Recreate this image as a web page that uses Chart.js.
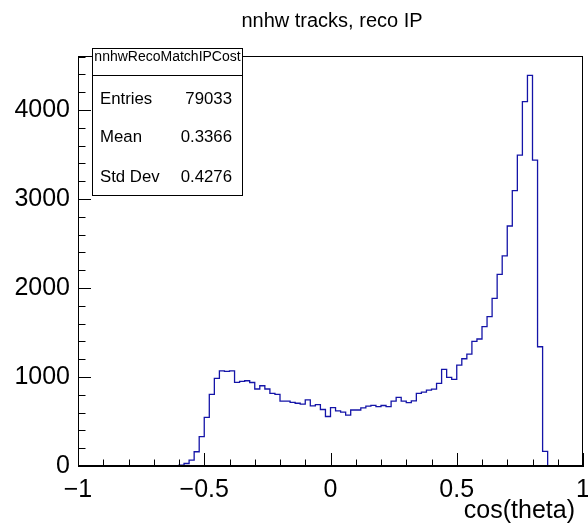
<!DOCTYPE html>
<html>
<head>
<meta charset="utf-8">
<script src="https://cdn.jsdelivr.net/npm/chart.js@4/dist/chart.umd.min.js"></script>
<style>
html,body{margin:0;padding:0;background:#fff;}
#wrap{width:588px;height:524px;position:relative;}
</style>
</head>
<body>
<div id="wrap"><canvas id="c" width="588" height="524"></canvas></div>
<script>
// ---- data ----
const chartTitle = 'nnhw tracks, reco IP';
const xAxisTitle = 'cos(theta)';
const histName = 'nnhwRecoMatchIPCost';
const statLabels = ['Entries', 'Mean', 'Std Dev'];
const statValues = ['79033', '0.3366', '0.4276'];
const xRange = [-1, 1];
const binWidth = 0.02;
const firstFilledBinLow = -0.6;
// counts of the filled bins, from -0.60 upward in steps of 0.02
const binCounts = [
  10, 28, 65, 160, 330, 547, 805, 985, 1070, 1063,
  1070, 940, 950, 958, 938, 865, 902, 865, 817, 805,
  730, 730, 716, 705, 695, 742, 676, 690, 635, 556,
  657, 620, 605, 572, 629, 629, 654, 672, 682, 668,
  680, 668, 730, 770, 729, 712, 732, 815, 830, 852,
  863, 929, 1086, 995, 974, 1133, 1205, 1257, 1400, 1427,
  1565, 1678, 1884, 2154, 2360, 2697, 3094, 3494, 4094, 4390,
  3438, 1340, 165
];
const yMax = 4607;
const xTickValues = [-1, -0.5, 0, 0.5, 1];
const yTickValues = [0, 1000, 2000, 3000, 4000];
const xMajorStep = 0.5, xMinorStep = 0.1;
const yMajorStep = 1000, yMinorStep = 200;

const FONT = '"Liberation Sans", Arial, Helvetica, sans-serif';

// histogram outline points (lower bin edges, stepped)
const points = [{x: xRange[0], y: 0}];
binCounts.forEach((v, i) => {
  points.push({x: +(firstFilledBinLow + i * binWidth).toFixed(4), y: v});
});
points.push({x: +(firstFilledBinLow + binCounts.length * binWidth).toFixed(4), y: 0});
points.push({x: xRange[1], y: 0});

const fmt = v => String(+(+v).toFixed(4)).replace('-', '\u2212');

const rootPlugin = {
  id: 'rootStyle',
  afterDraw(chart) {
    const ctx = chart.ctx;
    const a = chart.chartArea;
    const xs = chart.scales.x, ys = chart.scales.y;
    ctx.save();
    ctx.strokeStyle = '#000';
    ctx.lineWidth = 1;
    // frame
    ctx.strokeRect(Math.round(a.left) + 0.5, Math.round(a.top) + 0.5,
                   Math.round(a.right - a.left) - 1, Math.round(a.bottom - a.top) - 1);
    // x ticks (inside, upward)
    ctx.beginPath();
    const nx = Math.round((xRange[1] - xRange[0]) / xMinorStep);
    for (let i = 0; i <= nx; i++) {
      const v = xRange[0] + i * xMinorStep;
      const isMajor = Math.abs(v / xMajorStep - Math.round(v / xMajorStep)) < 1e-6;
      const px = Math.round(xs.getPixelForValue(v)) + 0.5;
      const len = isMajor ? 13 : 6.5;
      ctx.moveTo(px, a.bottom);
      ctx.lineTo(px, a.bottom - len);
    }
    // y ticks (inside, rightward)
    const ny = Math.floor(yMax / yMinorStep);
    for (let i = 0; i <= ny; i++) {
      const v = i * yMinorStep;
      const isMajor = v % yMajorStep === 0;
      const py = Math.round(ys.getPixelForValue(v)) + 0.5;
      const len = isMajor ? 13 : 7.5;
      ctx.moveTo(a.left, py);
      ctx.lineTo(a.left + len, py);
    }
    ctx.stroke();

    // stats box
    const bx = 92.5, by = 48.5, bw = 150, bh = 147;
    ctx.fillStyle = '#fff';
    ctx.fillRect(bx, by, bw, bh);
    ctx.strokeRect(bx, by, bw, bh);
    ctx.beginPath();
    ctx.moveTo(bx, 75.5);
    ctx.lineTo(bx + bw, 75.5);
    ctx.stroke();
    ctx.fillStyle = '#000';
    ctx.textBaseline = 'alphabetic';
    ctx.font = '14px ' + FONT;
    ctx.textAlign = 'center';
    ctx.fillText(histName, bx + bw / 2, 61, bw - 2);
    ctx.font = '16.8px ' + FONT;
    const baselines = [103.5, 141.5, 181.5];
    statLabels.forEach((lab, i) => {
      ctx.textAlign = 'left';
      ctx.fillText(lab, 100, baselines[i]);
      ctx.textAlign = 'right';
      ctx.fillText(statValues[i], 232, baselines[i]);
    });

    // main title
    ctx.font = '20px ' + FONT;
    ctx.textAlign = 'center';
    ctx.fillText(chartTitle, 332, 27);

    // x axis title (right-aligned, ROOT style)
    ctx.font = '25px ' + FONT;
    ctx.textAlign = 'right';
    ctx.textBaseline = 'middle';
    ctx.fillText(xAxisTitle, 575, 511);
    ctx.restore();
  }
};

new Chart(document.getElementById('c'), {
  type: 'line',
  data: {
    datasets: [{
      data: points,
      stepped: 'before',
      borderColor: '#1414a8',
      borderWidth: 1.3,
      pointRadius: 0,
      fill: false,
      tension: 0
    }]
  },
  options: {
    responsive: false,
    animation: false,
    devicePixelRatio: 1,
    layout: {padding: {left: 0, right: 5, top: 56, bottom: 0}},
    plugins: {
      legend: {display: false},
      tooltip: {enabled: false},
      title: {display: false}
    },
    scales: {
      x: {
        type: 'linear',
        min: xRange[0],
        max: xRange[1],
        grid: {display: false, drawTicks: false},
        border: {display: true, color: '#000', width: 1},
        ticks: {
          padding: 9,
          color: '#000',
          maxRotation: 0,
          autoSkip: false,
          font: {family: FONT, size: 25},
          callback: v => fmt(v)
        },
        afterBuildTicks: s => { s.ticks = xTickValues.map(v => ({value: v})); },
        title: {display: false, text: xAxisTitle},
        afterFit: s => { s.height = 58; s.paddingLeft = 0; s.paddingRight = 0; }
      },
      y: {
        type: 'linear',
        min: 0,
        max: yMax,
        grid: {display: false, drawTicks: false},
        border: {display: true, color: '#000', width: 1},
        ticks: {
          padding: 8,
          color: '#000',
          autoSkip: false,
          font: {family: FONT, size: 25},
          callback: v => fmt(v)
        },
        afterBuildTicks: s => { s.ticks = yTickValues.map(v => ({value: v})); },
        afterFit: s => { s.width = 78; s.paddingTop = 0; s.paddingBottom = 0; }
      }
    }
  },
  plugins: [rootPlugin]
});
</script>
</body>
</html>
